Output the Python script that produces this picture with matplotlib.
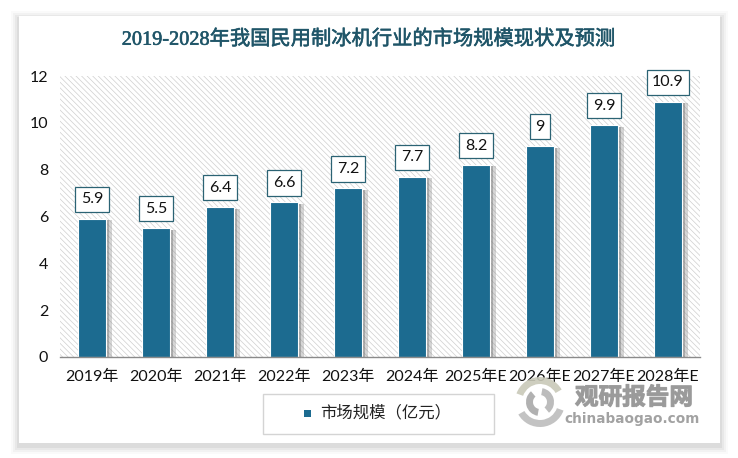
import matplotlib
matplotlib.use('Agg')
import matplotlib.pyplot as plt
import matplotlib.patheffects as pe
from matplotlib.patches import Rectangle, Wedge

years = ['2019年', '2020年', '2021年', '2022年', '2023年', '2024年',
         '2025年E', '2026年E', '2027年E', '2028年E']
market_size = [5.9, 5.5, 6.4, 6.6, 7.2, 7.7, 8.2, 9, 9.9, 10.9]
value_labels = ['5.9', '5.5', '6.4', '6.6', '7.2', '7.7', '8.2', '9', '9.9', '10.9']
y_ticks = [0, 2, 4, 6, 8, 10, 12]

W, H = 738, 458
BLUE = '#1c6b90'
BOX = '#2b6374'
plt.rcParams['font.family'] = ['Lato', 'Noto Sans CJK SC', 'DejaVu Sans']
plt.rcParams['hatch.linewidth'] = 0.5


def px_axes(fig, x0, y0, x1, y1):
    # pixel box measured from the top left corner of the image
    return fig.add_axes([x0 / W, 1 - y1 / H, (x1 - x0) / W, (y1 - y0) / H])


fig = plt.figure(figsize=(W / 100, H / 100), dpi=100, facecolor='white')

# card with soft shadow, everything decorative is drawn in pixels here
bg = fig.add_axes([0, 0, 1, 1], zorder=0)
bg.set_xlim(0, W)
bg.set_ylim(H, 0)
bg.axis('off')
for grow, a in [(8, 0.02), (6, 0.03), (4, 0.04), (2, 0.05)]:
    bg.add_patch(Rectangle((19 - grow, 16 - grow + 3), 701 + 2 * grow, 427 + 2 * grow,
                           fc='black', ec='none', alpha=a))
bg.add_patch(Rectangle((19, 16), 701, 427, fc='white', ec='none'))

title = fig.text(368 / W, 1 - 40 / H, '2019-2028年我国民用制冰机行业的市场规模现状及预测',
                 ha='center', va='center', fontsize=14.6, color='#1f5568',
                 family=['Liberation Serif', 'Noto Sans CJK SC'])
title.set_path_effects([pe.withStroke(linewidth=0.4, foreground='#1f5568')])

ax = px_axes(fig, 60, 76, 700, 357)
ax.set_zorder(1)
ax.patch.set_alpha(0)
# hatch takes the edge colour, so the edge stays set with zero width
ax.add_patch(Rectangle((0, 0), 1, 1, transform=ax.transAxes, fc='white', ec='#cfcfcf',
                       lw=0, hatch='\\\\\\\\\\\\', zorder=0))

x = range(len(years))
bars = ax.bar(x, market_size, width=0.44, color=BLUE, edgecolor='white', linewidth=0.8, zorder=2)
for b in bars:
    b.set_path_effects([pe.SimplePatchShadow(offset=(4, -1), shadow_rgbFace='#888888', alpha=0.35),
                        pe.SimplePatchShadow(offset=(2, -1), shadow_rgbFace='#777777', alpha=0.45),
                        pe.Normal()])

for i, v in enumerate(market_size):
    ax.annotate(value_labels[i], (i, v), xytext=(0, 14), textcoords='offset points',
                ha='center', va='center', fontsize=11.5, color='#111111', zorder=4,
                bbox=dict(boxstyle='square,pad=0.35', fc='white', ec=BOX, lw=0.9))

ax.set_xlim(-0.5, len(years) - 0.5)
ax.set_ylim(0, 12)
ax.set_yticks(y_ticks)
ax.set_xticks(list(x))
ax.set_xticklabels(years)
ax.tick_params(axis='both', length=0, labelsize=11.5, labelcolor='#111111')
ax.tick_params(axis='x', pad=9)
ax.tick_params(axis='y', pad=8.5)
for side in ['top', 'right', 'left']:
    ax.spines[side].set_visible(False)
ax.spines['bottom'].set_color('#8a8a8a')
ax.spines['bottom'].set_linewidth(1)

# legend box
top = fig.add_axes([0, 0, 1, 1], zorder=3)
top.set_xlim(0, W)
top.set_ylim(H, 0)
top.axis('off')
top.patch.set_alpha(0)
top.add_patch(Rectangle((263, 394), 231, 40, fc='white', ec='#d4d4d4', lw=1))
top.add_patch(Rectangle((304, 410), 7, 7, fc=BLUE, ec='none'))
top.text(320, 413, '市场规模（亿元）', fontsize=11.8, va='center', ha='left', color='#222222')

# watermark
for r, t1, t2, col in [(25, 20, 150, '#bdbdbd'), (25, 200, 330, '#c9c9b8'),
                       (14, 100, 230, '#a9a9a9'), (14, 280, 50, '#b5b5b5')]:
    top.add_patch(Wedge((540, 402), r, t1, t2, width=7, fc=col, ec='none', alpha=0.9))
wm = top.text(634, 397, '观研报告网', fontsize=17, fontweight='bold', color='#9a9a9a',
              ha='center', va='center', alpha=0.9)
wm.set_path_effects([pe.withStroke(linewidth=0.8, foreground='#9a9a9a')])
top.text(632, 419, 'chinabaogao.com', fontsize=9.8, fontweight='bold', color='#a2a2a2',
         ha='center', va='center', family=['DejaVu Sans'])

fig.savefig('out.png', dpi=100)
